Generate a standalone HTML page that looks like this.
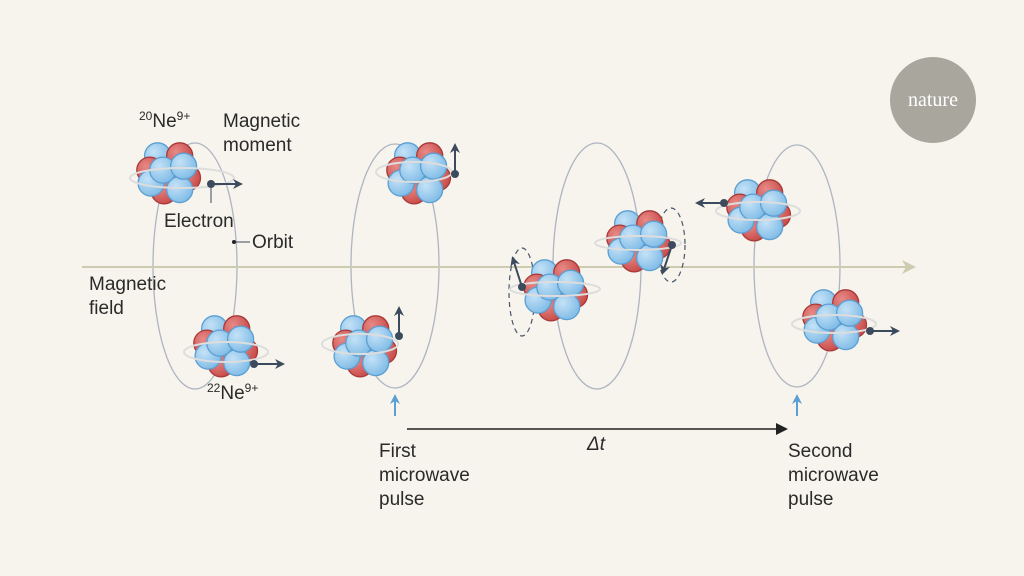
<!DOCTYPE html>
<html><head><style>
html,body{margin:0;padding:0;background:#f6f4ec;}
svg{display:block}
text{font-family:"Liberation Sans",sans-serif;fill:#2a2a2a;font-size:19px}
</style></head><body>
<svg width="1024" height="576" viewBox="0 0 1024 576" xmlns="http://www.w3.org/2000/svg">
<defs>
<radialGradient id="b" cx="0.35" cy="0.35" r="0.7"><stop offset="0" stop-color="#c4e2f7"/><stop offset="1" stop-color="#7fbbe6"/></radialGradient>
<radialGradient id="r" cx="0.35" cy="0.35" r="0.7"><stop offset="0" stop-color="#e88a86"/><stop offset="1" stop-color="#c74a48"/></radialGradient>
<g id="nuc">
<circle cx="-8" cy="-14" r="10" fill="url(#b)" stroke="#5b9fd3"/>
<circle cx="9" cy="-14" r="10" fill="url(#r)" stroke="#a83838"/>
<circle cx="-14" cy="-3" r="10" fill="url(#r)" stroke="#a83838"/>
<circle cx="15" cy="3" r="10" fill="url(#r)" stroke="#a83838"/>
<circle cx="-3" cy="13" r="10" fill="url(#r)" stroke="#a83838"/>
<circle cx="9" cy="12" r="10" fill="url(#b)" stroke="#5b9fd3"/>
<circle cx="-13" cy="7" r="10" fill="url(#b)" stroke="#5b9fd3"/>
<circle cx="-4" cy="-3" r="10" fill="url(#b)" stroke="#5b9fd3"/>
<circle cx="12" cy="-6" r="10" fill="url(#b)" stroke="#5b9fd3"/>
</g>
<marker id="ah" markerWidth="10" markerHeight="10" refX="7" refY="5" orient="auto" markerUnits="userSpaceOnUse"><path d="M0,0 L10,5 L0,10 L3,5z" fill="#3c4a5e"/></marker>
<marker id="ak" markerWidth="12" markerHeight="12" refX="8" refY="6" orient="auto" markerUnits="userSpaceOnUse"><path d="M0,0 L12,6 L0,12z" fill="#222"/></marker>
<marker id="ay" markerWidth="14" markerHeight="14" refX="10" refY="7" orient="auto" markerUnits="userSpaceOnUse"><path d="M0,0 L14,7 L0,14 L4,7z" fill="#cfcbb0"/></marker>
<marker id="abl" markerWidth="10" markerHeight="10" refX="7" refY="5" orient="auto" markerUnits="userSpaceOnUse"><path d="M0,0 L10,5 L0,10 L3,5z" fill="#5b9fd3"/></marker>
</defs>
<rect width="1024" height="576" fill="#f6f4ec"/>
<g fill="none" stroke="#aeb4c2" stroke-width="1.3">
<ellipse cx="195" cy="266" rx="42" ry="123"/>
<ellipse cx="395" cy="266" rx="44" ry="122"/>
<ellipse cx="597" cy="266" rx="44" ry="123"/>
<ellipse cx="797" cy="266" rx="43" ry="121"/>
</g>
<line x1="82" y1="267" x2="912" y2="267" stroke="#cfcbb0" stroke-width="2" marker-end="url(#ay)"/>
<g fill="none" stroke="#4a566a" stroke-width="1.2" stroke-dasharray="5,4">
<ellipse cx="522" cy="292" rx="13" ry="44"/>
<ellipse cx="671" cy="245" rx="14" ry="37"/>
</g>
<use href="#nuc" transform="translate(168,174) scale(1.3)"/><ellipse cx="182" cy="178" rx="52" ry="10" fill="none" stroke="#ddd" stroke-width="2"/>
<use href="#nuc" transform="translate(225,347) scale(1.3)"/><ellipse cx="226" cy="352" rx="42" ry="10" fill="none" stroke="#ddd" stroke-width="2"/>
<use href="#nuc" transform="translate(418,174) scale(1.3)"/><ellipse cx="414" cy="172" rx="38" ry="10" fill="none" stroke="#ddd" stroke-width="2"/>
<use href="#nuc" transform="translate(364,347) scale(1.3)"/><ellipse cx="360" cy="344" rx="38" ry="10" fill="none" stroke="#ddd" stroke-width="2"/>
<use href="#nuc" transform="translate(555,291) scale(1.3)"/><ellipse cx="555" cy="289" rx="45" ry="7" fill="none" stroke="#ddd" stroke-width="2"/>
<use href="#nuc" transform="translate(638,242) scale(1.3)"/><ellipse cx="638" cy="243" rx="43" ry="7" fill="none" stroke="#ddd" stroke-width="2"/>
<use href="#nuc" transform="translate(758,211) scale(1.3)"/><ellipse cx="758" cy="211" rx="42" ry="9" fill="none" stroke="#ddd" stroke-width="2"/>
<use href="#nuc" transform="translate(834,321) scale(1.3)"/><ellipse cx="834" cy="324" rx="42" ry="9" fill="none" stroke="#ddd" stroke-width="2"/>
<g stroke="#3c4a5e" stroke-width="2" marker-end="url(#ah)">
<line x1="211" y1="184" x2="240" y2="184"/>
<line x1="254" y1="364" x2="282" y2="364"/>
<line x1="455" y1="174" x2="455" y2="146"/>
<line x1="399" y1="336" x2="399" y2="309"/>
<line x1="522" y1="287" x2="513" y2="259"/>
<line x1="672" y1="245" x2="663" y2="272"/>
<line x1="724" y1="203" x2="698" y2="203"/>
<line x1="870" y1="331" x2="897" y2="331"/>
</g>
<g fill="#3c4a5e">
<circle cx="211" cy="184" r="4"/><circle cx="254" cy="364" r="4"/><circle cx="455" cy="174" r="4"/><circle cx="399" cy="336" r="4"/>
<circle cx="522" cy="287" r="4"/><circle cx="672" cy="245" r="4"/><circle cx="724" cy="203" r="4"/><circle cx="870" cy="331" r="4"/>
</g>
<line x1="211" y1="188" x2="211" y2="203" stroke="#3c4a5e" stroke-width="1"/>
<line x1="236" y1="242" x2="250" y2="242" stroke="#3c4a5e" stroke-width="1"/>
<circle cx="234" cy="242" r="2" fill="#222"/>
<text x="139" y="127"><tspan font-size="12" dy="-7">20</tspan><tspan dy="7">Ne</tspan><tspan font-size="12" dy="-7">9+</tspan></text>
<text x="223" y="127">Magnetic</text>
<text x="223" y="151">moment</text>
<text x="164" y="227">Electron</text>
<text x="252" y="248">Orbit</text>
<text x="89" y="290">Magnetic</text>
<text x="89" y="314">field</text>
<text x="207" y="399"><tspan font-size="12" dy="-7">22</tspan><tspan dy="7">Ne</tspan><tspan font-size="12" dy="-7">9+</tspan></text>
<text x="379" y="457">First</text>
<text x="379" y="481">microwave</text>
<text x="379" y="505">pulse</text>
<text x="788" y="457">Second</text>
<text x="788" y="481">microwave</text>
<text x="788" y="505">pulse</text>
<text x="587" y="450" font-style="italic">Δt</text>
<line x1="395" y1="416" x2="395" y2="397" stroke="#5b9fd3" stroke-width="2" marker-end="url(#abl)"/>
<line x1="797" y1="416" x2="797" y2="397" stroke="#5b9fd3" stroke-width="2" marker-end="url(#abl)"/>
<line x1="407" y1="429" x2="784" y2="429" stroke="#222" stroke-width="1.5" marker-end="url(#ak)"/>
<circle cx="933" cy="100" r="43" fill="#a8a69d"/>
<text x="933" y="106" text-anchor="middle" style="font-family:'Liberation Serif',serif;font-size:20px;fill:#fff">nature</text>
</svg>
</body></html>
